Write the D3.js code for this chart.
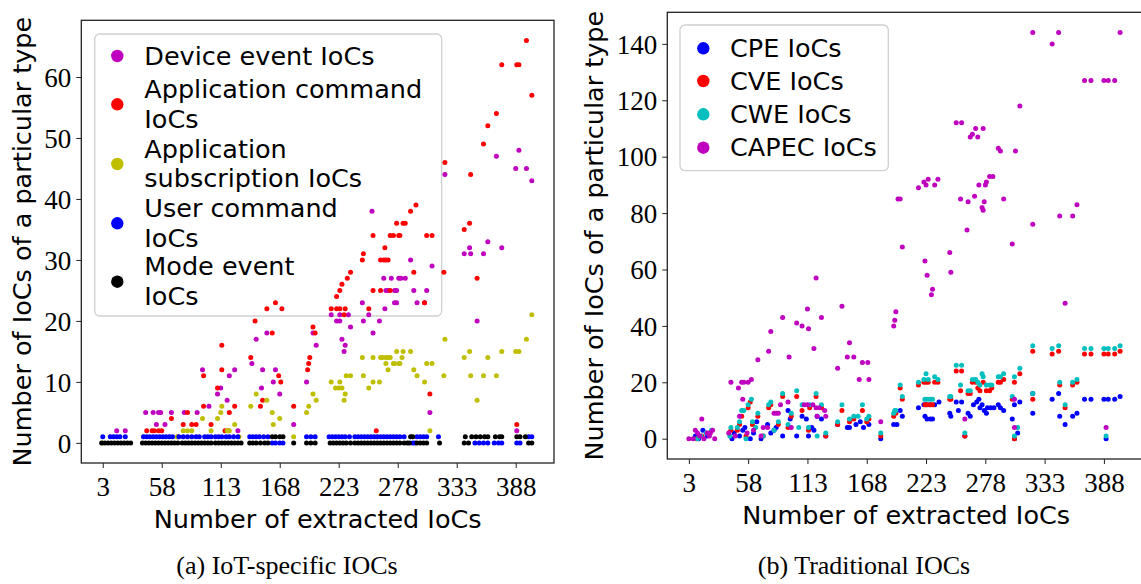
<!DOCTYPE html>
<html><head><meta charset="utf-8">
<script src="https://cdn.jsdelivr.net/npm/d3@7"></script>
<style>body{margin:0;background:#fff}svg{display:block}</style>
</head><body><svg id="c" width="1141" height="584"></svg>
<script>
// ---------- DATA ----------
const xTicks = [3, 58, 113, 168, 223, 278, 333, 388];
const yTicksA = [0, 10, 20, 30, 40, 50, 60];
const yTicksB = [0, 20, 40, 60, 80, 100, 120, 140];
const seriesNamesA = [["Device event IoCs"], ["Application command", "IoCs"], ["Application", "subscription IoCs"], ["User command", "IoCs"], ["Mode event", "IoCs"]];
const seriesNamesB = ["CPE IoCs", "CVE IoCs", "CWE IoCs", "CAPEC IoCs"];

// (a) IoT-specific IOCs : [extracted IoCs, count]
const deviceEvent = [[16,2],[24,2],[43,5],[50,5],[55,5],[57,5],[67,5],[79,5],[91,5],[53,3],[61,3],[96,12],[126,12],[113,9],[110,8],[119,7],[121,11],[102,6],[129,2],[142,13],[146,17],[156,18],[152,12],[164,12],[162,10],[151,9],[168,8],
 [391,48],[370,47],[388,45],[398,45],[403,43],[322,44],[362,33],[345,32],[340,31],[346,31],[358,31],[375,32],[352,20],[254,38],[290,30],[310,29],[265,27],[272,27],[279,27],[281,27],[285,27],[267,25],[269,25],[275,25],[277,25],[275,23],[277,23],[266,22],[293,25],[305,25],[296,23],[303,23],[245,23],[246,20],[251,21],[261,20],[255,18],[216,21],[224,21],[232,21],[221,20],[224,20],[234,19],[226,17],[229,16],[228,15],[199,18],[202,16],[193,10],[181,3],[308,5],[389,2]];
const appCommand = [[44,2],[49,2],[51,2],[55,2],[58,2],[67,4],[78,3],[86,3],[82,5],[97,11],[114,12],[114,16],[110,9],[97,6],[126,6],[121,5],[104,3],[117,2],[120,2],[90,3],[73,1],[141,14],[145,20],[156,22],[164,23],[170,22],[161,18],[152,7],[150,6],[169,10],[167,11],
 [398,66],[375,62],[389,62],[391,62],[403,57],[370,54],[362,52],[358,49],[346,44],[322,46],[345,36],[340,35],[352,27],[321,28],[308,8],[389,3],[295,39],[290,38],[277,36],[283,36],[285,36],[271,34],[274,34],[279,34],[280,34],[266,32],[262,30],[265,30],[267,30],[269,30],[305,34],[310,34],[293,28],[255,25],[262,25],[271,25],[246,31],[245,30],[255,34],[251,22],[303,23],[234,28],[231,27],[226,26],[224,25],[221,24],[216,22],[221,22],[224,22],[229,22],[228,21],[201,18],[199,19],[196,14],[195,13],[194,12],[181,6],[258,2]];
const appSubscription = [[3,0],[41,1],[78,2],[82,2],[86,2],[96,4],[110,4],[104,2],[114,6],[113,5],[126,3],[119,2],[121,2],[72,1],[130,1],[141,6],[146,8],[156,7],[162,3],[161,5],[168,4],
 [403,21],[398,17],[388,15],[391,15],[375,15],[345,15],[340,14],[362,14],[346,11],[358,11],[370,11],[352,7],[322,17],[321,11],[305,13],[310,13],[293,12],[296,11],[303,10],[308,2],[277,15],[283,15],[290,15],[282,14],[262,14],[264,14],[267,14],[269,14],[271,14],[274,13],[275,13],[279,13],[280,13],[267,13],[269,12],[245,14],[255,14],[246,11],[251,9],[255,10],[261,10],[216,10],[224,10],[220,9],[223,9],[226,9],[229,8],[228,7],[230,11],[234,11],[199,8],[202,7],[195,6],[193,5],[181,1],[258,1]];
const userCommand = [[3,1],[10,1],[13,1],[16,1],[19,1],[24,1],
 [41,1],[44,1],[47,1],[50,1],[53,1],[56,1],[59,1],[62,1],[65,1],[68,1],[74,1],[78,1],[82,1],[86,1],[90,1],[93,1],[98,1],[101,1],[104,1],[108,1],[111,1],[114,1],[118,1],[121,1],[125,1],[129,1],
 [140,1],[143,1],[146,1],[149,1],[153,1],[157,1],[161,0],[164,0],[168,0],[171,0],
 [193,1],[197,1],[201,1],[214,1],[217,1],[220,1],[223,1],[226,1],[229,1],[233,1],
 [238,1],[241,1],[244,1],[247,1],[250,1],[253,1],[256,1],[259,1],[262,1],[265,1],[268,1],[271,1],[274,1],[277,1],[280,1],[284,1],[292,0],[294,0],
 [296,1],[299,1],[302,1],[305,1],[316,1],
 [350,0],[354,0],[358,0],[362,0],[368,0],[372,0],[375,0],[389,0],[392,0],[400,1],[403,1]];
const modeEvent = [[2,0],[5,0],[8,0],[11,0],[14,0],[17,0],[20,0],[23,0],[26,0],[29,0],
 [40,0],[43,0],[46,0],[49,0],[52,0],[55,0],[58,0],[61,0],[64,0],[67,0],[70,0],[73,0],[77,0],[80,0],[83,0],[86,0],[89,0],[92,0],[95,0],[98,0],[101,0],[104,0],[108,0],[111,0],[114,0],[117,0],[120,0],[123,0],[126,0],[129,0],[132,0],
 [140,0],[143,0],[146,0],[150,0],[154,0],[157,0],[161,1],[164,1],[168,1],[171,1],
 [181,0],[193,0],[197,0],[201,0],
 [215,0],[218,0],[221,0],[224,0],[227,0],[230,0],[234,0],
 [238,0],[241,0],[244,0],[247,0],[250,0],[253,0],[256,0],[259,0],[262,0],[265,0],[268,0],[271,0],[274,0],[277,0],[280,0],[284,0],[287,0],[289,0],[290,1],[292,1],
 [296,0],[299,0],[302,0],[305,0],[317,0],
 [340,0],[344,0],[341,1],[347,1],[351,1],[355,1],[359,1],[362,1],[369,1],[373,1],[375,1],[389,1],[392,1],[397,1],[400,0],[403,0]];

// (b) Traditional IOCs : [extracted IoCs, count]
const cpe = [[16,3],[12,0],[20,1],[9,1],
 [43,0],[45,2],[50,1],[53,3],[55,4],[60,0],[63,2],[66,6],[70,0],[76,5],[79,2],[82,3],[84,4],[90,1],[95,10],[97,7],[103,1],[108,8],[112,7],[114,1],[117,4],[119,3],[122,8],[126,7],[130,1],
 [141,5],[150,4],[152,4],[158,5],[162,6],[165,4],[170,5],[181,0],
 [193,5],[196,5],[199,10],[201,8],
 [216,11],[221,12],[223,12],[226,12],[231,12],[235,13],[222,8],[224,7],[227,7],[229,7],
 [245,9],[246,8],[251,13],[256,13],[253,10],[259,1],[262,9],[264,8],[267,12],[270,13],[272,14],[273,11],[275,12],[277,10],[279,9],[280,11],[283,11],[286,11],[290,12],[292,11],[295,10],[303,7],[305,12],[310,13],[305,0],[308,2],
 [322,16],[322,9],[340,14],[346,16],[370,14],[376,14],[388,14],[392,14],[398,14],[403,15],[347,8],[352,5],[359,8],[363,9],[390,0]];
const cve = [[10,0],[22,2],[15,1],
 [42,3],[48,3],[50,5],[52,8],[56,1],[58,11],[60,13],[62,5],[67,8],[72,1],[77,11],[79,12],[86,5],[90,15],[95,4],[98,8],[103,15],[108,10],[114,3],[115,11],[121,15],[126,11],[130,1],
 [141,5],[145,10],[152,6],[156,7],[164,10],[168,6],[170,7],[181,1],
 [193,8],[195,9],[199,18],[201,14],
 [216,19],[221,20],[223,20],[225,20],[231,20],[234,20],[222,12],[224,12],[227,12],[229,12],
 [245,14],[246,14],[251,24],[256,24],[255,17],[259,1],[262,16],[264,16],[266,20],[269,20],[271,18],[273,17],[276,20],[279,17],[282,17],[284,18],[290,20],[292,20],[295,21],[303,14],[305,20],[310,23],[305,0],
 [322,31],[340,30],[346,31],[370,30],[376,30],[388,30],[392,30],[398,30],[403,31],[322,14],[347,19],[359,19],[363,20],[352,11]];
const cwe = [[11,0],[24,3],[14,1],[19,2],
 [41,1],[42,4],[48,4],[50,6],[52,10],[54,10],[56,0],[58,12],[61,14],[62,6],[65,4],[67,9],[72,1],[77,12],[79,13],[82,3],[86,6],[90,16],[95,5],[98,9],[103,17],[105,4],[108,12],[114,4],[115,12],[121,16],[122,1],[126,12],[130,2],
 [141,6],[145,12],[152,7],[156,8],[160,8],[164,12],[168,7],[170,8],[181,2],
 [193,9],[194,10],[195,10],[199,19],[201,15],
 [216,20],[221,21],[223,23],[225,21],[231,22],[234,21],[222,14],[224,14],[227,14],[229,14],
 [245,15],[246,15],[251,26],[256,26],[255,19],[259,2],[262,17],[264,17],[266,21],[269,21],[271,20],[273,19],[276,22],[279,19],[282,19],[284,19],[275,23],[290,22],[292,22],[295,23],[303,15],[305,22],[310,25],[305,1],[308,4],
 [322,33],[340,32],[346,33],[370,32],[376,32],[388,32],[392,32],[398,32],[403,33],[322,16],[347,20],[359,20],[363,21],[352,12],[390,1]];
const capec = [[3,0],[7,0],[9,3],[11,2],[13,1],[15,7],[17,0],[20,2],[22,1],[23,2],[25,3],[27,0],
 [42,20],[49,18],[52,20],[54,20],[58,20],[61,21],[53,14],[50,8],[67,28],[77,31],[79,38],[90,43],[96,29],[103,41],[108,40],[114,39],[113,46],[121,57],[119,32],[126,43],[88,12],[82,9],[84,9],[86,9],[95,13],[110,12],[113,12],[118,12],[121,11],[124,11],[129,10],[122,8],[130,8],[72,4],[46,1],[57,2],[63,3],[70,1],[76,4],[98,4],[40,2],
 [141,25],[145,47],[150,29],[152,34],[156,29],[164,27],[169,27],[161,21],[170,21],[181,6],
 [193,40],[194,42],[195,45],[197,85],[199,85],[201,68],
 [216,89],[221,91],[223,90],[225,92],[231,90],[234,92],[222,63],[224,58],[229,53],[228,51],
 [245,66],[246,59],[251,112],[256,112],[255,85],[262,84],[261,74],[264,107],[266,108],[271,107],[269,110],[276,110],[268,86],[272,90],[278,90],[279,91],[282,93],[285,93],[275,82],[276,81],[277,84],[290,103],[292,102],[295,85],[306,102],[303,69],[310,118],[259,7],[305,14],[305,4],
 [322,144],[346,144],[403,144],[340,140],[370,127],[376,127],[388,127],[392,127],[398,127],[322,76],[347,79],[359,79],[363,83],[352,48],[390,4]];

// ---------- DRAW ----------
const svg = d3.select("#c");
svg.append("rect").attr("width",1141).attr("height",584).attr("fill","#fff");
const SANS = "DejaVu Sans", SERIF = "Liberation Serif";

function panel(o) {
  const x = d3.scaleLinear().domain(o.xDom).range([o.L, o.R]);
  const y = d3.scaleLinear().domain(o.yDom).range([o.B, o.T]);
  const g = svg.append("g");
  // legend (below the points)
  const lg = g.append("g");
  lg.append("rect").attr("x", o.leg.x).attr("y", o.leg.y).attr("width", o.leg.w).attr("height", o.leg.h)
    .attr("rx", 5).attr("fill", "#fff").attr("stroke", "#d0d0d0").attr("stroke-width", 1.3);
  o.leg.items.forEach((it, i) => {
    const my = o.leg.my[i];
    lg.append("circle").attr("cx", o.leg.mx).attr("cy", my).attr("r", 6.2).attr("fill", it.color);
    const t = lg.append("text").attr("font-family", SANS).attr("font-size", 25.5).attr("fill", "#000");
    const n = it.lines.length;
    it.lines.forEach((ln, k) => {
      t.append("tspan").attr("x", o.leg.tx).attr("y", my + 8.5 + (k - (n - 1) / 2) * 29.5).text(ln);
    });
  });
  // points
  o.series.forEach(s => {
    g.append("g").selectAll("circle").data(s.data).join("circle")
      .attr("cx", d => x(d[0])).attr("cy", d => y(d[1])).attr("r", 2.5).attr("fill", s.color);
  });
  // axes
  const ax = g.append("g").attr("transform", `translate(0,${o.B})`)
    .call(d3.axisBottom(x).tickValues(xTicks).tickSize(5).tickSizeOuter(0).tickPadding(9));
  const ay = g.append("g").attr("transform", `translate(${o.L},0)`)
    .call(d3.axisLeft(y).tickValues(o.yTicks).tickSize(5).tickSizeOuter(0).tickPadding(5));
  [ax, ay].forEach(a => {
    a.select(".domain").remove();
    a.selectAll(".tick line").attr("stroke", "#222").attr("stroke-width", 1);
    a.selectAll(".tick text").attr("font-family", SERIF).attr("font-size", 27).attr("fill", "#000");
  });
  ay.selectAll(".tick text").attr("dy", "0.34em");
  ax.selectAll(".tick text").attr("dy", "0.71em");
  // frame
  g.append("rect").attr("x", o.L).attr("y", o.T).attr("width", o.R - o.L).attr("height", o.B - o.T)
    .attr("fill", "none").attr("stroke", "#222").attr("stroke-width", 1.3);
  // labels
  svg.append("text").attr("x", (o.L + Math.min(o.R,1141)) / 2 + o.xlDx).attr("y", o.xlY).attr("text-anchor", "middle")
    .attr("font-family", SANS).attr("font-size", 25.5).text("Number of extracted IoCs");
  svg.append("text").attr("transform", `translate(${o.ylX},${(o.T + o.B) / 2}) rotate(-90)`).attr("text-anchor", "middle")
    .attr("font-family", SANS).attr("font-size", 25.5).text("Number of IoCs of a particular type");
  svg.append("text").attr("x", o.capX).attr("y", 574).attr("text-anchor", "middle")
    .attr("font-family", SERIF).attr("font-size", 26).text(o.caption);
}

const colA = ["#bf00bf", "#ff0000", "#bfbf00", "#0000ff", "#000000"];
panel({
  L: 81.3, R: 554, T: 20.3, B: 463, xDom: [-17.0, 423.7], yDom: [-3.3, 69.3], yTicks: yTicksA,
  series: [deviceEvent, appCommand, appSubscription, userCommand, modeEvent].map((d, i) => ({data: d, color: colA[i]})),
  xlDx: 0, xlY: 528, ylX: 31, capX: 287, caption: "(a) IoT-specific IOCs",
  leg: {x: 94.7, y: 34, w: 347, h: 282, mx: 117.3, tx: 144.3, my: [56, 104.3, 164, 223.3, 281.7],
        items: seriesNamesA.map((l, i) => ({lines: l, color: colA[i]}))}
});
const colB = ["#0000ff", "#ff0000", "#00bfbf", "#bf00bf"];
panel({
  L: 667.3, R: 1142.4, T: 12.3, B: 459, xDom: [-17.0, 423.7], yDom: [-7.2, 151.2], yTicks: yTicksB,
  series: [cpe, cve, cwe, capec].map((d, i) => ({data: d, color: colB[i]})),
  xlDx: 2, xlY: 524, ylX: 603, capX: 864, caption: "(b) Traditional IOCs",
  leg: {x: 680, y: 25, w: 208.3, h: 145.7, mx: 703.3, tx: 730, my: [48.3, 81, 114.3, 147.7],
        items: seriesNamesB.map((l, i) => ({lines: [l], color: colB[i]}))}
});
</script></body></html>
